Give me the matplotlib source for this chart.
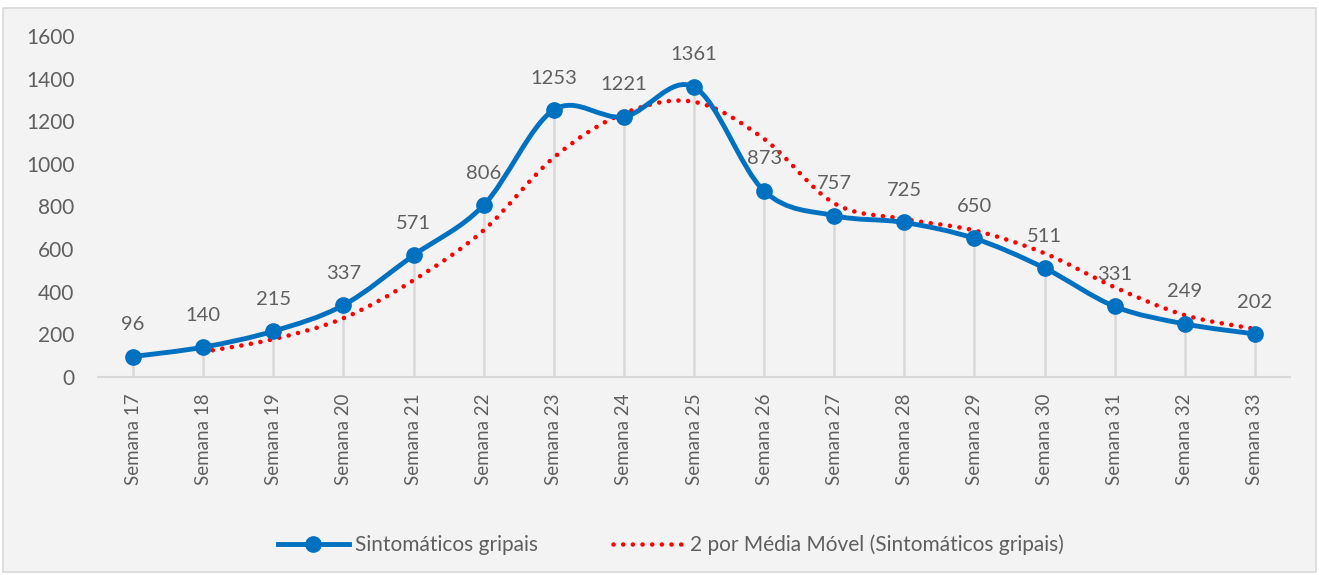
import matplotlib
matplotlib.use("Agg")
import matplotlib.pyplot as plt
from matplotlib.path import Path
from matplotlib.patches import PathPatch, Rectangle
from matplotlib.lines import Line2D
import numpy as np

plt.rcParams['font.family'] = ['Lato', 'DejaVu Sans']

semanas = ['Semana 17', 'Semana 18', 'Semana 19', 'Semana 20', 'Semana 21', 'Semana 22',
           'Semana 23', 'Semana 24', 'Semana 25', 'Semana 26', 'Semana 27', 'Semana 28',
           'Semana 29', 'Semana 30', 'Semana 31', 'Semana 32', 'Semana 33']
sintomaticos = [96, 140, 215, 337, 571, 806, 1253, 1221, 1361, 873, 757, 725, 650, 511, 331, 249, 202]
# 2 period moving average, starts at Semana 18
media_movel = [118, 177.5, 276, 454, 688.5, 1029.5, 1237, 1291, 1117, 815, 741, 687.5, 580.5, 421, 290, 225.5]

blue = '#0070C0'
red = '#FF0000'
grey_txt = '#5F5F5F'
grid_c = '#D9D9D9'


def smooth_path(x, y):
    # Excel-like smoothed line: cubic bezier through the points (catmull-rom)
    x = np.asarray(x, float)
    y = np.asarray(y, float)
    px = np.concatenate([[x[0]], x, [x[-1]]])
    py = np.concatenate([[y[0]], y, [y[-1]]])
    verts = [(x[0], y[0])]
    codes = [Path.MOVETO]
    for i in range(1, len(x)):
        c1 = (px[i] + (px[i + 1] - px[i - 1]) / 6, py[i] + (py[i + 1] - py[i - 1]) / 6)
        c2 = (px[i + 1] - (px[i + 2] - px[i]) / 6, py[i + 1] - (py[i + 2] - py[i]) / 6)
        verts += [c1, c2, (x[i], y[i])]
        codes += [Path.CURVE4] * 3
    return Path(verts, codes)


fig = plt.figure(figsize=(13.19, 5.75), dpi=100)
fig.patch.set_facecolor('white')
bg = Rectangle((3 / 1319, 3 / 575), 1313 / 1319, 564 / 575,
               transform=fig.transFigure, facecolor='#F3F3F3',
               edgecolor=grid_c, linewidth=1.2, zorder=-10)
fig.patches.append(bg)

ax = fig.add_axes([98 / 1319, 1 - 377 / 575, 1192 / 1319, 341 / 575])
ax.set_facecolor('none')
ax.set_zorder(1)

xs = np.arange(len(semanas))
ax.set_xlim(-0.5, len(semanas) - 0.5)
ax.set_ylim(0, 1600)

# drop lines
ax.vlines(xs, 0, sintomaticos, color=grid_c, linewidth=1.8, zorder=1)

# moving average (dotted, smoothed)
ma_x = xs[1:]
p_ma = PathPatch(smooth_path(ma_x, media_movel), facecolor='none', edgecolor=red,
                 linewidth=3.3, linestyle=(0, (0.01, 2.1)), capstyle='round', zorder=3)
ax.add_patch(p_ma)

# main series
p_main = PathPatch(smooth_path(xs, sintomaticos), facecolor='none', edgecolor=blue,
                   linewidth=3.5, zorder=4, capstyle='round', joinstyle='round')
ax.add_patch(p_main)
ax.plot(xs, sintomaticos, linestyle='none', marker='o', markersize=11,
        color=blue, zorder=5)

for xi, v in zip(xs, sintomaticos):
    ax.annotate(str(v), (xi, v), xytext=(0, 23), textcoords='offset points',
                ha='center', va='center', fontsize=14.5, color=grey_txt, zorder=6)

ax.set_yticks(range(0, 1601, 200))
ax.set_xticks(xs)
ax.set_xticklabels(semanas, rotation=90, fontsize=13.5, color=grey_txt)
ax.tick_params(axis='y', length=0, pad=17, labelsize=15, labelcolor=grey_txt)
ax.tick_params(axis='x', length=0, pad=12)

for s in ['top', 'right', 'left']:
    ax.spines[s].set_visible(False)
ax.spines['bottom'].set_color(grid_c)
ax.spines['bottom'].set_linewidth(1.5)

handles = [
    Line2D([], [], color=blue, linewidth=3.5, marker='o', markersize=11),
    Line2D([], [], color=red, linewidth=3.3, linestyle=(0, (0.01, 2.1)), dash_capstyle='round'),
]
labels = ['Sintomáticos gripais', '2 por Média Móvel (Sintomáticos gripais)']
leg = fig.legend(handles, labels, loc='center', bbox_to_anchor=(671 / 1319, 1 - 545 / 575),
                 ncol=2, frameon=False, fontsize=15, handlelength=3.4, columnspacing=3.6,
                 handletextpad=0.3)
for t in leg.get_texts():
    t.set_color(grey_txt)

fig.savefig('out.png', dpi=100, facecolor=fig.get_facecolor())
